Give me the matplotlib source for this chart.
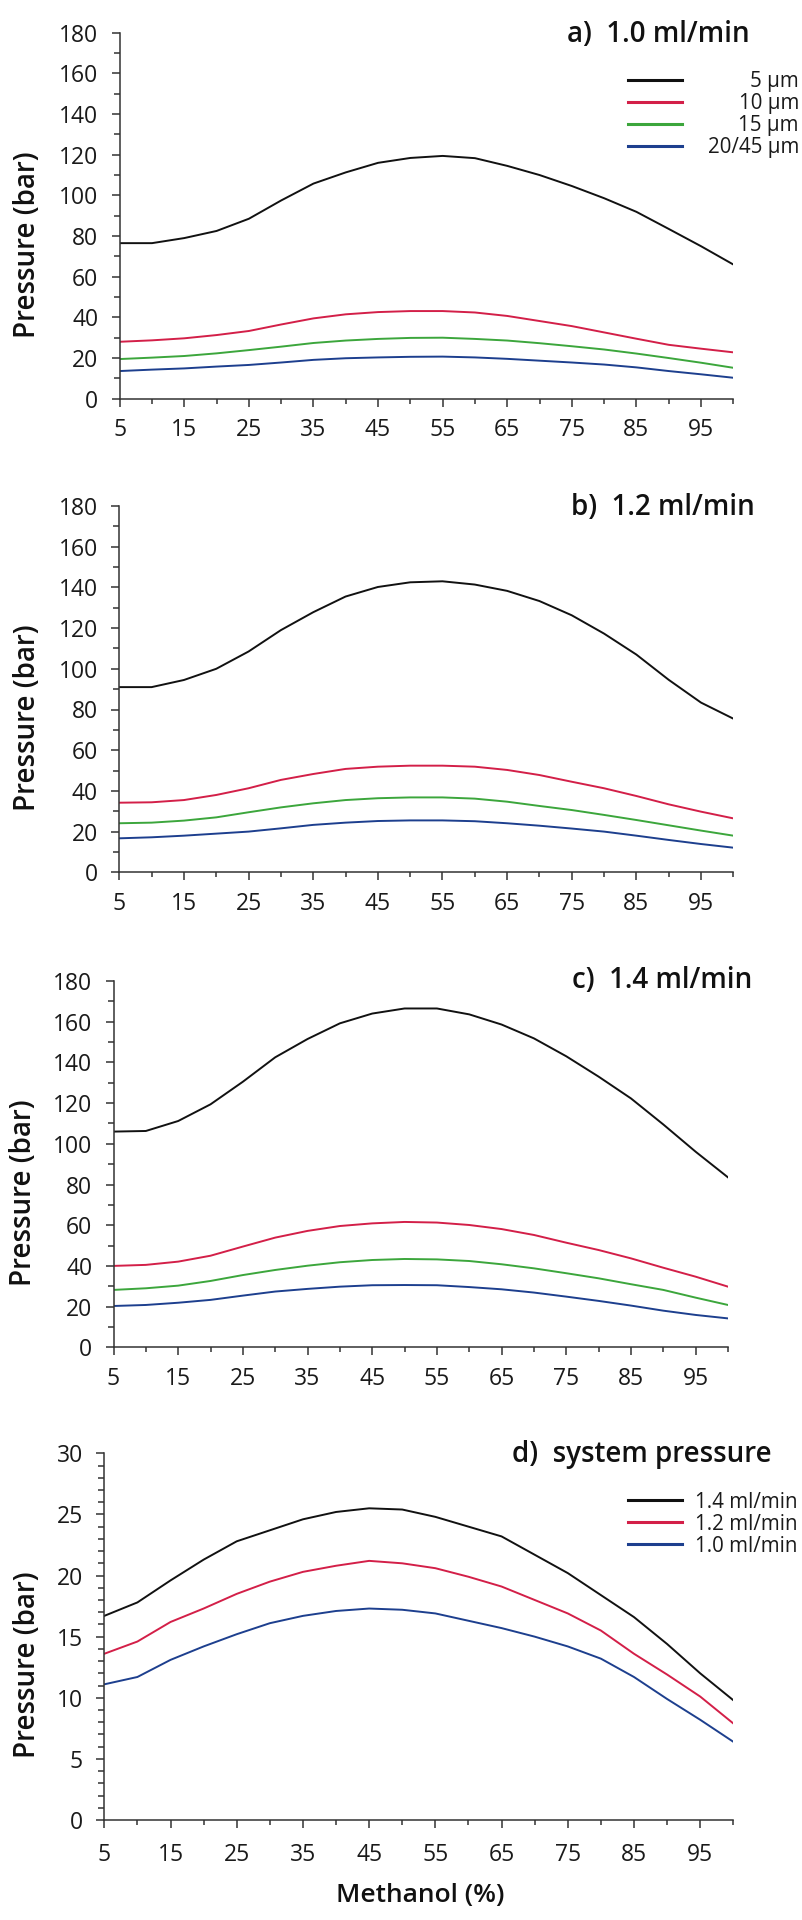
import matplotlib
matplotlib.use('Agg')
import matplotlib.pyplot as plt
from matplotlib.lines import Line2D
from matplotlib.ticker import MultipleLocator

plt.rcParams['font.family'] = ['Open Sans', 'DejaVu Sans']

# methanol content (%) at which the curves were read
methanol = [5, 10, 15, 20, 25, 30, 35, 40, 45, 50, 55, 60, 65, 70, 75, 80, 85, 90, 95, 100]

# a) 1.0 ml/min, column pressure per particle size
a_5um = [76.5, 76.5, 79, 82.5, 88.5, 97.5, 105.8, 111.3, 116, 118.4, 119.4, 118.3, 114.5, 110, 104.6, 98.6, 91.9, 83.5, 75, 66]
a_10um = [28, 28.7, 29.7, 31.3, 33.3, 36.5, 39.5, 41.5, 42.6, 43.1, 43.1, 42.4, 40.7, 38.2, 35.7, 32.6, 29.5, 26.5, 24.6, 22.8]
a_15um = [19.5, 20.2, 21, 22.3, 23.9, 25.6, 27.4, 28.6, 29.4, 29.9, 30, 29.4, 28.6, 27.3, 25.8, 24.2, 22.2, 20, 17.7, 15.2]
a_20um = [13.6, 14.3, 14.9, 15.8, 16.6, 17.8, 19.1, 19.9, 20.3, 20.6, 20.7, 20.3, 19.6, 18.7, 17.8, 16.8, 15.4, 13.6, 12, 10.3]

# b) 1.2 ml/min
b_5um = [91, 91, 94.5, 100, 108.5, 119, 127.8, 135.5, 140.2, 142.5, 143, 141.4, 138.3, 133.3, 126.3, 117.3, 107, 94.6, 83.4, 75.5]
b_10um = [34.2, 34.4, 35.5, 38, 41.3, 45.4, 48.3, 50.8, 51.9, 52.4, 52.4, 51.9, 50.3, 47.8, 44.5, 41.3, 37.5, 33.4, 29.8, 26.5]
b_15um = [24.1, 24.4, 25.4, 27, 29.5, 31.9, 33.9, 35.5, 36.4, 36.8, 36.8, 36.2, 34.7, 32.6, 30.6, 28.2, 25.7, 23.1, 20.5, 18]
b_20um = [16.7, 17.2, 18, 19, 20, 21.6, 23.3, 24.4, 25.2, 25.5, 25.5, 25.1, 24.1, 22.9, 21.5, 20, 18, 15.9, 13.9, 12.1]

# c) 1.4 ml/min
c_5um = [106, 106.3, 111.2, 119.4, 130.5, 142.5, 151.5, 159.2, 164, 166.5, 166.5, 163.6, 158.6, 151.8, 143, 133, 122.3, 109.5, 96.1, 83.5]
c_10um = [40, 40.5, 42.1, 45, 49.5, 53.9, 57.2, 59.6, 60.9, 61.6, 61.3, 60.1, 58.1, 55.2, 51.4, 47.8, 43.7, 39.1, 34.7, 29.8]
c_15um = [28.2, 29, 30.3, 32.6, 35.5, 38, 40.1, 41.8, 42.9, 43.4, 43.2, 42.4, 40.8, 38.8, 36.4, 33.9, 31, 28.2, 24.4, 20.8]
c_20um = [20.3, 20.8, 21.9, 23.3, 25.4, 27.4, 28.7, 29.8, 30.5, 30.6, 30.5, 29.6, 28.5, 26.9, 24.9, 22.8, 20.5, 18, 15.9, 14.2]

# d) system pressure per flow rate
d_14 = [16.7, 17.8, 19.6, 21.3, 22.8, 23.7, 24.6, 25.2, 25.5, 25.4, 24.8, 24.0, 23.2, 21.7, 20.2, 18.4, 16.6, 14.4, 12.0, 9.8]
d_12 = [13.6, 14.6, 16.2, 17.3, 18.5, 19.5, 20.3, 20.8, 21.2, 21.0, 20.6, 19.9, 19.1, 18.0, 16.9, 15.5, 13.6, 11.9, 10.1, 7.9]
d_10 = [11.1, 11.7, 13.1, 14.2, 15.2, 16.1, 16.7, 17.1, 17.3, 17.2, 16.9, 16.3, 15.7, 15.0, 14.2, 13.2, 11.7, 9.9, 8.2, 6.4]

size_labels = ['5 µm', '10 µm', '15 µm', '20/45 µm']
flow_labels = ['1.4 ml/min', '1.2 ml/min', '1.0 ml/min']

BLACK = '#111111'
RED = '#d31f48'
GREEN = '#3ca63c'
BLUE = '#1d3f8e'
AXIS = '#333333'

W, H = 802, 1920
fig = plt.figure(figsize=(W / 100, H / 100), dpi=100)


def px_axes(left, right, top, bottom):
    # axes box given in figure pixels (origin top-left)
    return fig.add_axes([left / W, 1 - bottom / H, (right - left) / W, (bottom - top) / H])


def style(ax, ymax, ymajor, yminor, xpad):
    ax.set_xlim(5, 100)
    ax.set_ylim(0, ymax)
    ax.set_xticks(range(5, 100, 10))
    ax.xaxis.set_minor_locator(MultipleLocator(5))
    ax.yaxis.set_major_locator(MultipleLocator(ymajor))
    ax.yaxis.set_minor_locator(MultipleLocator(yminor))
    for s in ['top', 'right']:
        ax.spines[s].set_visible(False)
    for s in ['left', 'bottom']:
        ax.spines[s].set_color(AXIS)
        ax.spines[s].set_linewidth(1.1)
    ax.tick_params(which='both', direction='out', color=AXIS, width=1.1)
    ax.tick_params(axis='x', which='major', length=5.6, pad=xpad)
    ax.tick_params(axis='x', which='minor', length=3.6)
    ax.tick_params(axis='y', which='major', length=5.8, pad=9.5)
    ax.tick_params(axis='y', which='minor', length=4.0)
    for lab in ax.get_xticklabels() + ax.get_yticklabels():
        lab.set_fontsize(16.5)
        lab.set_color('#1a1a1a')


def legend(ax, handles, labels, top, right_align):
    leg = ax.legend(handles, labels, loc='upper left',
                    bbox_to_anchor=(628 / W, 1 - top / H), bbox_transform=fig.transFigure,
                    frameon=False, borderpad=0, borderaxespad=0,
                    handlelength=2.64, handletextpad=0.62, labelspacing=0.05,
                    prop=dict(size=14.8))
    for t in leg.get_texts():
        t.set_color('#1a1a1a')
    if right_align:
        # stretch every row so the labels end flush right
        for row in leg._legend_handle_box.get_children()[0].get_children():
            row.mode = 'expand'
            row.width = 171
    return leg


panels = [
    (px_axes(119.7, 733.3, 32.7, 398.7), [a_5um, a_10um, a_15um, a_20um], 'a)  1.0 ml/min', 750, 41.7, 245),
    (px_axes(119.3, 733.3, 506, 872.3), [b_5um, b_10um, b_15um, b_20um], 'b)  1.2 ml/min', 755, 515, 718),
    (px_axes(113.5, 728, 981, 1347.3), [c_5um, c_10um, c_15um, c_20um], 'c)  1.4 ml/min', 752, 988, 1193),
]

for i, (ax, series, title, tx, ty, ly) in enumerate(panels):
    handles = []
    for vals, col in zip(series, [BLACK, RED, GREEN, BLUE]):
        h, = ax.plot(methanol, vals, color=col, lw=1.4, solid_joinstyle='round')
        handles.append(h)
    style(ax, 180, 20, 10, 8.5)
    fig.text(tx / W, 1 - ty / H, title, ha='right', va='baseline',
             fontsize=20, fontweight='semibold', color='#111111')
    fig.text(28 / W if i < 2 else 24 / W, 1 - ly / H, 'Pressure (bar)', rotation=90,
             ha='center', va='center', fontsize=20, fontweight='semibold', color='#111111')
    if i == 0:
        legend(ax, [Line2D([], [], color=h.get_color(), lw=2.2) for h in handles],
               size_labels, 70.8, True)

axd = px_axes(104.3, 733.3, 1453.3, 1820)
hd = []
for vals, col in zip([d_14, d_12, d_10], [BLACK, RED, BLUE]):
    h, = axd.plot(methanol, vals, color=col, lw=1.4, solid_joinstyle='round')
    hd.append(h)
style(axd, 30, 5, 1, 11)
fig.text(772 / W, 1 - 1462 / H, 'd)  system pressure', ha='right', va='baseline',
         fontsize=20, fontweight='semibold', color='#111111')
fig.text(28 / W, 1 - 1665 / H, 'Pressure (bar)', rotation=90,
         ha='center', va='center', fontsize=20, fontweight='semibold', color='#111111')
legend(axd, [Line2D([], [], color=h.get_color(), lw=2.2) for h in hd], flow_labels, 1491.5, False)
fig.text(420 / W, 1 - 1902 / H, 'Methanol (%)', ha='center', va='baseline',
         fontsize=19, fontweight='semibold', color='#111111')

fig.savefig('out.png', dpi=100)
